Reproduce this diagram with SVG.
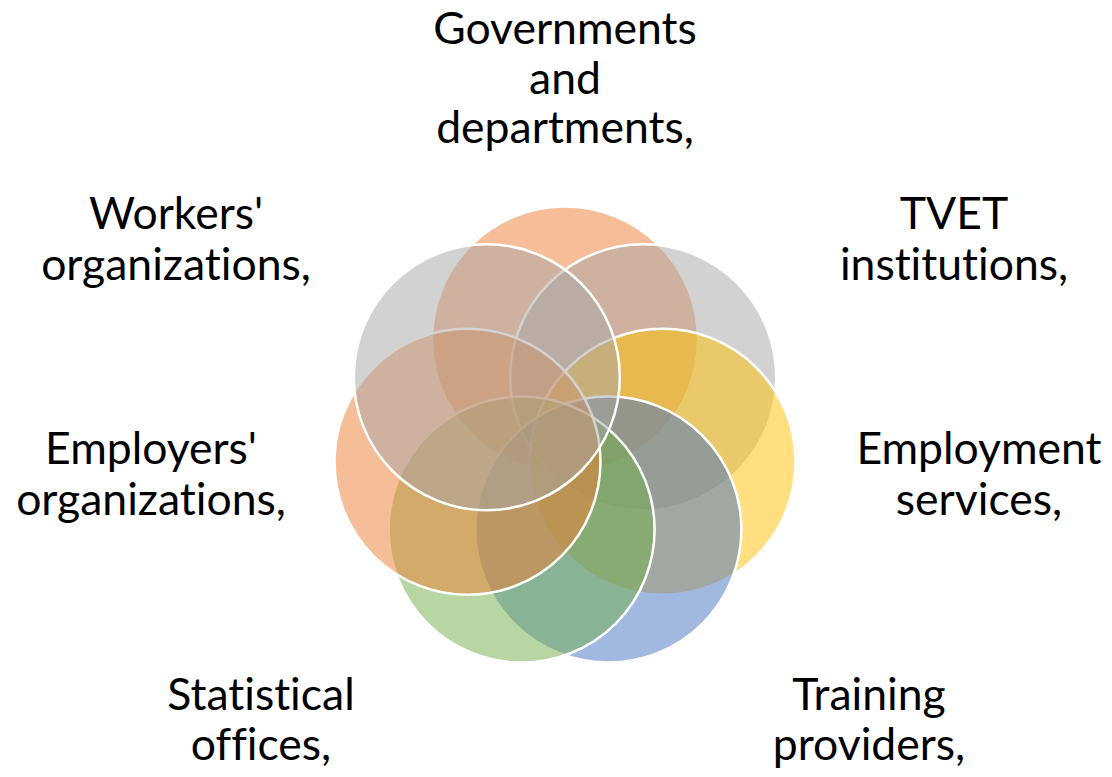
<svg xmlns="http://www.w3.org/2000/svg" width="1112" height="777" viewBox="0 0 1112 777">
<style>
.c{stroke:#FFFFFF;stroke-width:2.5;fill-opacity:0.5}
.o{fill:#ED7D31}.g{fill:#A5A5A5}.y{fill:#FFC000}.b{fill:#4472C4}.gr{fill:#70AD47}
.t{font-family:Lato,"Open Sans","Liberation Sans",sans-serif;font-size:44.5px;fill:#000000;text-anchor:middle;font-variant-ligatures:none;font-feature-settings:"liga" 0,"clig" 0}
</style>
<rect width="1112" height="777" fill="#FFFFFF"/>
<g id="node-governments"><circle class="c o" cx="565" cy="339.5" r="133"/>
<text class="t" x="565" y="44">Governments</text><text class="t" x="565" y="94">and</text><text class="t" x="565" y="143">departments,</text></g>
<g id="node-tvet"><circle class="c g" cx="643.2" cy="377.2" r="133"/>
<text class="t" x="954" y="229">TVET</text><text class="t" x="954" y="280">institutions,</text></g>
<g id="node-employment"><circle class="c y" cx="662.5" cy="461.8" r="133"/>
<text class="t" x="979" y="464">Employment</text><text class="t" x="979" y="515">services,</text></g>
<g id="node-training"><circle class="c b" cx="608.4" cy="529.6" r="133"/>
<text class="t" x="869" y="710">Training</text><text class="t" x="869" y="760">providers,</text></g>
<g id="node-statistical"><circle class="c gr" cx="521.6" cy="529.6" r="133"/>
<text class="t" x="261" y="710">Statistical</text><text class="t" x="261" y="760">offices,</text></g>
<g id="node-employers"><circle class="c o" cx="467.5" cy="461.8" r="133"/>
<text class="t" x="151" y="464">Employers'</text><text class="t" x="151" y="515">organizations,</text></g>
<g id="node-workers"><circle class="c g" cx="486.8" cy="377.2" r="133"/>
<text class="t" x="176" y="229">Workers'</text><text class="t" x="176" y="280">organizations,</text></g>
<g id="connectors"></g>
</svg>
